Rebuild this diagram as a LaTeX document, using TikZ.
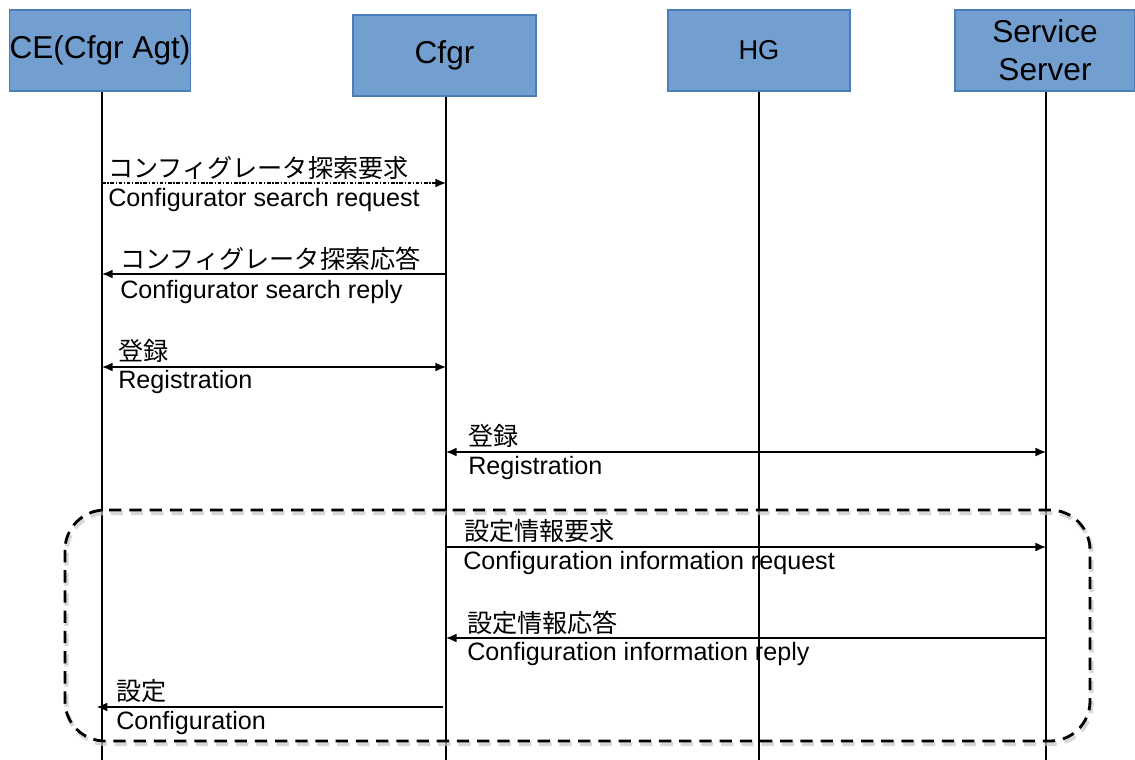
\documentclass[tikz,border=0pt]{standalone}
\usepackage{fontspec}
\setmainfont{Liberation Sans}
\newfontfamily\jp{Noto Sans CJK JP}
\usetikzlibrary{arrows.meta}
\definecolor{hdfill}{HTML}{729FCF}
\definecolor{hdline}{HTML}{4A7EBB}
\tikzset{
  head/.style={draw=hdline, line width=0.8pt, fill=hdfill, minimum width=3.6cm, minimum height=1.62cm,
    inner sep=0pt, align=center, font=\fontsize{18}{21.5}\selectfont},
  life/.style={draw, line width=0.8pt},
  msg/.style={draw, line width=0.7pt, -{Latex[length=6pt,width=5pt]}},
  both/.style={msg, {Latex[length=6pt,width=5pt]}-{Latex[length=6pt,width=5pt]}},
  lbl/.style={anchor=west, inner sep=0pt, font=\fontsize{14.3}{16}\selectfont},
  group/.style={draw, line width=1.6pt, dash pattern=on 7pt off 4.5pt, rounded corners=0.8cm},
}
\begin{document}
\begin{tikzpicture}[x=0.02cm, y=-0.02cm]
    \useasboundingbox (0,0) rectangle (1135,760);

    % lifelines
    \coordinate (ceT) at (102,60);  \coordinate (ceB) at (102,760);
    \coordinate (cfT) at (446,60);  \coordinate (cfB) at (446,760);
    \coordinate (hgT) at (759,60);  \coordinate (hgB) at (759,760);
    \coordinate (ssT) at (1046,60); \coordinate (ssB) at (1046,760);
    \path[life] (ceT) -- (ceB);
    \path[life] (cfT) -- (cfB);
    \path[life] (hgT) -- (hgB);
    \path[life] (ssT) -- (ssB);

    \node[head] (ce) at (100,50.5) {CE(Cfgr Agt)};
    \node[head, minimum width=3.66cm] (cf) at (444.5,55.5) {Cfgr};
    \node[head, minimum width=3.64cm, font=\fontsize{15.5}{18}\selectfont] (hg) at (759,50.5) {HG};
    \node[head] (ss) at (1045,50.5) {Service\\Server};

    % configuration phase
    \path[group, draw=black!22, opacity=0.7, line width=2.4pt] (66.5,513) rectangle (1091.5,744);
    \path[group] (65,510) rectangle (1090,741);

    % message rows
    \coordinate (r1) at (0,183);
    \coordinate (r2) at (0,274);
    \coordinate (r3) at (0,367);
    \coordinate (r4) at (0,452);
    \coordinate (r5) at (0,547);
    \coordinate (r6) at (0,638);
    \coordinate (r7) at (0,707);

    \path[msg, dash pattern=on 2pt off 1pt on 0.7pt off 1pt] (ceT |- r1) -- (cfT |- r1);
    \path[msg] (cfT |- r2) -- (ceT |- r2);
    \path[both] (ceT |- r3) -- (cfT |- r3);
    \path[both] (cfT |- r4) -- (ssT |- r4);
    \path[msg] (cfT |- r5) -- (ssT |- r5);
    \path[msg] (ssT |- r6) -- (cfT |- r6);
    \path[msg, shorten <=1.5pt, shorten >=-3pt] (cfT |- r7) -- (ceT |- r7);

    \node[lbl] (j1) at (108,168) {\jp コンフィグレータ探索要求};
    \node[lbl] (e1) at (108,200) {Configurator search request};
    \node[lbl] (j2) at (120,259) {\jp コンフィグレータ探索応答};
    \node[lbl] (e2) at (120,292) {Configurator search reply};
    \node[lbl] (j3) at (118,351) {\jp 登録};
    \node[lbl] (e3) at (118,382) {Registration};
    \node[lbl] (j4) at (468,436) {\jp 登録};
    \node[lbl] (e4) at (468,468) {Registration};
    \node[lbl] (j5) at (464,531) {\jp 設定情報要求};
    \node[lbl] (e5) at (463,563) {Configuration information request};
    \node[lbl] (j6) at (467,623) {\jp 設定情報応答};
    \node[lbl] (e6) at (467,654) {Configuration information reply};
    \node[lbl] (j7) at (116,691) {\jp 設定};
    \node[lbl] (e7) at (116,723) {Configuration};
\end{tikzpicture}
\end{document}
